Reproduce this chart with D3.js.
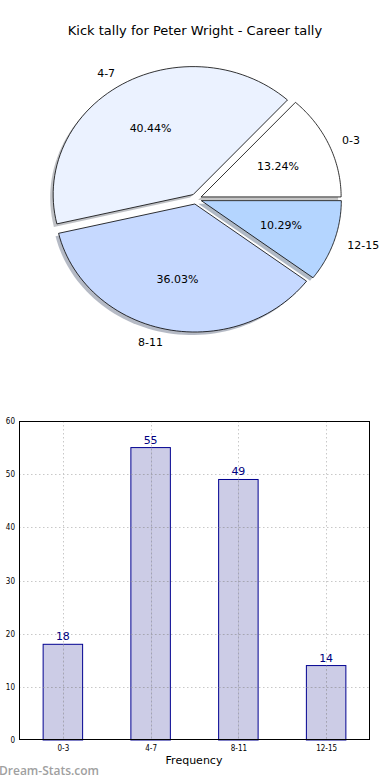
<!DOCTYPE html>
<html>
<head>
<meta charset="utf-8">
<script src="https://cdn.jsdelivr.net/npm/d3@7"></script>
<style>
  body { margin: 0; background: #fff; }
  svg { display: block; font-family: "DejaVu Sans", sans-serif; }
</style>
</head>
<body>
<svg width="390" height="780"></svg>
<script>
// kick tally data
var categories = ['0-3', '4-7', '8-11', '12-15'];
var counts = [18, 55, 49, 14];
var pieColors = ['#ffffff', '#ebf2ff', '#c6d9ff', '#b4d5ff'];
var yTicks = [0, 10, 20, 30, 40, 50, 60];

var svg = d3.select('svg');

svg.append('text')
  .attr('x', 195).attr('y', 35)
  .attr('text-anchor', 'middle')
  .style('font-size', '13px')
  .text('Kick tally for Peter Wright - Career tally');

// ---- pie (squashed like matplotlib, counterclockwise from 3 o'clock)
var cx = 196, cy = 199, rx = 140, ry = 128, explode = 0.04;
var total = d3.sum(counts);
var slices = [];
var a = 0;
counts.forEach(function(v, i) {
  var span = v / total * 2 * Math.PI;
  slices.push({i: i, label: categories[i], v: v, a0: a, a1: a + span, mid: a + span / 2});
  a += span;
});

function pt(s, r, ang) {
  var ox = cx + Math.cos(s.mid) * explode * rx;
  var oy = cy - Math.sin(s.mid) * explode * ry;
  return [ox + Math.cos(ang) * r * rx, oy - Math.sin(ang) * r * ry];
}

function wedgePath(s) {
  var p = d3.path();
  var c = pt(s, 0, 0);
  p.moveTo(c[0], c[1]);
  var n = 60;
  for (var k = 0; k <= n; k++) {
    var q = pt(s, 1, s.a0 + (s.a1 - s.a0) * k / n);
    p.lineTo(q[0], q[1]);
  }
  p.closePath();
  return p.toString();
}

var pie = svg.append('g');
pie.selectAll('path.shadow')
  .data(slices).enter().append('path')
  .attr('class', 'shadow')
  .attr('d', wedgePath)
  .attr('transform', 'translate(-3,3)')
  .style('fill', function(d) { return d3.rgb(pieColors[d.i]).darker(1.7); })
  .style('fill-opacity', 0.5);

pie.selectAll('path.wedge')
  .data(slices).enter().append('path')
  .attr('class', 'wedge')
  .attr('d', wedgePath)
  .style('fill', function(d) { return pieColors[d.i]; })
  .style('stroke', '#000')
  .style('stroke-width', 0.8);

pie.selectAll('text.lab')
  .data(slices).enter().append('text')
  .attr('class', 'lab')
  .attr('x', function(d) { return pt(d, 1.1, d.mid)[0]; })
  .attr('y', function(d) { return pt(d, 1.1, d.mid)[1]; })
  .attr('dy', '0.35em')
  .attr('text-anchor', function(d) { return Math.cos(d.mid) > 0 ? 'start' : 'end'; })
  .style('font-size', '11px')
  .text(function(d) { return d.label; });

pie.selectAll('text.pct')
  .data(slices).enter().append('text')
  .attr('class', 'pct')
  .attr('x', function(d) { return pt(d, 0.6, d.mid)[0]; })
  .attr('y', function(d) { return pt(d, 0.6, d.mid)[1]; })
  .attr('dy', '0.35em')
  .attr('text-anchor', 'middle')
  .style('font-size', '11px')
  .text(function(d) { return (d.v / total * 100).toFixed(2) + '%'; });

// ---- bar chart
var plotL = 19, plotR = 370, plotT = 421, plotB = 740;
var x = d3.scaleLinear().domain([-0.5, 3.5]).range([plotL, plotR]);
var y = d3.scaleLinear().domain([0, 60]).range([plotB, plotT]);
var barW = x(0.45) - x(0);

var grid = svg.append('g')
  .style('stroke', '#c8c8c8')
  .style('stroke-width', 1)
  .style('stroke-dasharray', '1.5,2.5');
grid.selectAll('line.gy').data(yTicks.slice(1, -1)).enter().append('line')
  .attr('x1', plotL).attr('x2', plotR)
  .attr('y1', function(d) { return Math.round(y(d)) + 0.5; })
  .attr('y2', function(d) { return Math.round(y(d)) + 0.5; });
grid.selectAll('line.gx').data(categories).enter().append('line')
  .attr('y1', plotT).attr('y2', plotB)
  .attr('x1', function(d, i) { return Math.round(x(i)) + 0.5; })
  .attr('x2', function(d, i) { return Math.round(x(i)) + 0.5; });

svg.selectAll('rect.bar')
  .data(counts).enter().append('rect')
  .attr('class', 'bar')
  .attr('x', function(d, i) { return x(i) - barW / 2; })
  .attr('y', function(d) { return y(d); })
  .attr('width', barW)
  .attr('height', function(d) { return plotB - y(d); })
  .style('fill', 'rgba(0,0,128,0.2)')
  .style('stroke', '#000090')
  .style('stroke-width', 1);

// grid shows through the bars in the reference
var grid2 = svg.append('g')
  .style('stroke', '#aaaaaa')
  .style('stroke-opacity', 0.6)
  .style('stroke-width', 1)
  .style('stroke-dasharray', '1.5,2.5');
grid2.selectAll('line.v').data(categories).enter().append('line')
  .attr('class', 'v')
  .attr('y1', function(d, i) { return y(counts[i]); }).attr('y2', plotB)
  .attr('x1', function(d, i) { return Math.round(x(i)) + 0.5; })
  .attr('x2', function(d, i) { return Math.round(x(i)) + 0.5; });
yTicks.slice(1, -1).forEach(function(t) {
  counts.forEach(function(c, i) {
    if (c <= t) return;
    grid2.append('line')
      .attr('x1', x(i) - barW / 2).attr('x2', x(i) + barW / 2)
      .attr('y1', Math.round(y(t)) + 0.5).attr('y2', Math.round(y(t)) + 0.5);
  });
});

svg.selectAll('text.val')
  .data(counts).enter().append('text')
  .attr('class', 'val')
  .attr('x', function(d, i) { return x(i); })
  .attr('y', function(d) { return y(d) - 4; })
  .attr('text-anchor', 'middle')
  .style('font-size', '11px')
  .style('fill', '#000080')
  .text(function(d) { return d; });

svg.append('rect')
  .attr('x', plotL + 0.5).attr('y', plotT + 0.5)
  .attr('width', plotR - plotL - 1).attr('height', plotB - plotT - 1)
  .style('fill', 'none').style('stroke', '#000').style('stroke-width', 1);

var yAxis = d3.axisLeft(y).tickValues(yTicks).tickSize(0).tickPadding(4);
svg.append('g')
  .attr('transform', 'translate(' + plotL + ',0)')
  .call(yAxis)
  .call(function(g) { g.select('.domain').remove(); })
  .selectAll('text')
  .style('font-family', '"DejaVu Sans Condensed", "DejaVu Sans", sans-serif')
  .style('font-size', '8px')
  .style('fill', '#000');

var xAxis = d3.axisBottom(x).tickValues([0, 1, 2, 3])
  .tickFormat(function(i) { return categories[i]; })
  .tickSize(0).tickPadding(5);
svg.append('g')
  .attr('transform', 'translate(0,' + plotB + ')')
  .call(xAxis)
  .call(function(g) { g.select('.domain').remove(); })
  .selectAll('text')
  .style('font-family', '"DejaVu Sans Condensed", "DejaVu Sans", sans-serif')
  .style('font-size', '8px')
  .style('fill', '#000');

svg.append('text')
  .attr('x', 194).attr('y', 764)
  .attr('text-anchor', 'middle')
  .style('font-size', '11px')
  .text('Frequency');

svg.append('text')
  .attr('x', -1).attr('y', 775)
  .style('font-family', '"Open Sans", sans-serif')
  .style('font-size', '12px')
  .style('font-weight', '600')
  .style('fill', '#a0a0a0')
  .text('Dream-Stats.com');
</script>
</body>
</html>
